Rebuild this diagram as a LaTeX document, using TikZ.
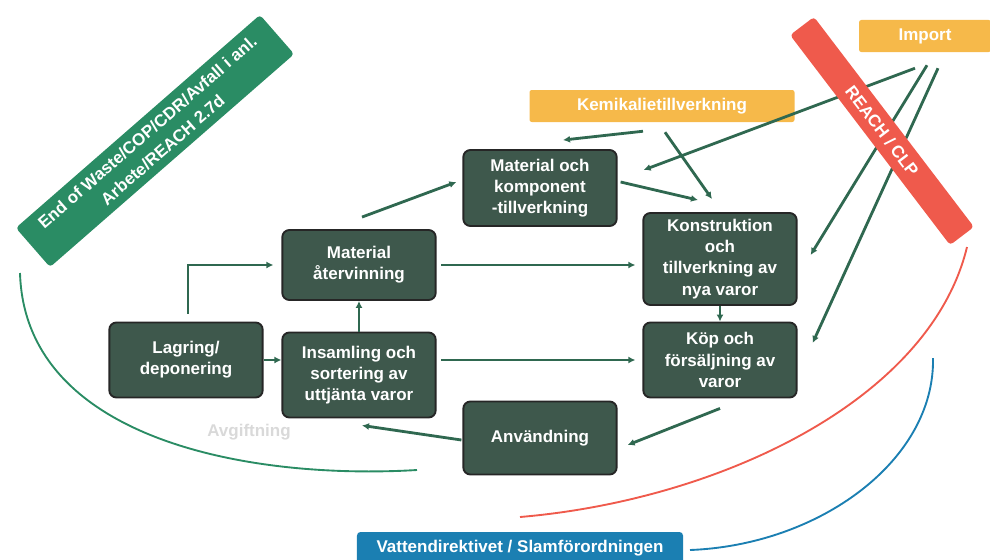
\documentclass[tikz,border=0pt]{standalone}
\usepackage{fontspec}
\setmainfont{Liberation Sans}
\usetikzlibrary{arrows.meta}
\definecolor{boxgreen}{HTML}{3E584C}
\definecolor{flowgreen}{HTML}{2F6850}
\definecolor{lawgreen}{HTML}{2A8C64}
\definecolor{lawred}{HTML}{EF5A4C}
\definecolor{lawblue}{HTML}{1B7FB2}
\definecolor{srcorange}{HTML}{F6B94A}
\begin{document}
\begin{tikzpicture}[x=0.03cm,y=-0.03cm,stage/.style={rectangle, rounded corners=6pt, draw=black!85, fill=boxgreen, line width=1.6pt, text=white, align=center, font=\fontsize{14.5}{18}\selectfont\bfseries, minimum width=4.6cm},source/.style={rectangle, rounded corners=2pt, fill=srcorange, text=white, font=\fontsize{14.5}{18}\selectfont\bfseries, minimum height=0.96cm},law/.style={rectangle, rounded corners=3pt, text=white, align=center, font=\fontsize{14.5}{20}\selectfont\bfseries},flow/.style={draw=flowgreen, line width=2.4pt, -{Latex[length=6pt,width=6pt]}},arc/.style={line width=1.6pt},]
            \useasboundingbox (0,0) rectangle (990,559);
            \node[law, fill=lawgreen, rotate=41.1, minimum width=9.72cm, minimum height=1.56cm] (eow) at (155,141) {End of Waste/COP/CDR/Avfall i anl.\\Arbete/REACH 2.7d};
            \node[source, minimum width=7.95cm] (kem) at (662,106) {Kemikalietillverkning};
            \node[source, minimum width=3.96cm] (imp) at (925,36) {Import};
            \node[stage, minimum height=2.28cm] (mok) at (540,188) {Material och\\komponent\\-tillverkning};
            \node[stage, minimum height=2.1cm] (atv) at (359,265) {Material\\återvinning};
            \node[stage, minimum height=2.76cm] (konst) at (720,259) {Konstruktion\\och\\tillverkning av\\nya varor};
            \node[stage, minimum height=2.25cm] (kop) at (720,360) {Köp och\\försäljning av\\varor};
            \node[stage, minimum height=2.25cm] (lagr) at (186,360) {Lagring/\\deponering};
            \node[stage, minimum height=2.55cm] (ins) at (359,375) {Insamling och\\sortering av\\uttjänta varor};
            \node[stage, minimum height=2.19cm] (anv) at (540,438) {Användning};
            \node[law, text=gray!30] (avg) at (249,432) {Avgiftning};
            \node[law, fill=lawblue, minimum width=9.78cm, minimum height=0.96cm] (vatten) at (520,548) {Vattendirektivet / Slamförordningen};
            \coordinate (g1) at (20,273);
            \coordinate (g2) at (417,470);
            \coordinate (r1) at (967,247);
            \coordinate (r2) at (520,517);
            \coordinate (b1) at (933,358);
            \coordinate (b2) at (690,550);
            \draw[arc, lawgreen] (g1) .. controls (25,440) and (250,480) .. (g2);
            \draw[arc, lawred] (r1) .. controls (930,400) and (720,500) .. (r2);
            \draw[arc, lawblue] (b1) .. controls (935,460) and (820,545) .. (b2);
            \draw[flow] ([shift={(3,-12)}]atv.north) -- ([shift={(-6,-6)}]mok.west);
            \draw[flow] ([shift={(-19,9)}]kem.south) -- ([shift={(23,-9)}]mok.north);
            \draw[flow] ([shift={(3,10)}]kem.south) -- ([shift={(-8,-13)}]konst.north);
            \draw[flow] ([shift={(3,-6)}]mok.east) -- ([shift={(-22,-12)}]konst.north);
            \draw[flow] ([shift={(-10,16)}]imp.south) -- ([shift={(26,-18)}]mok.east);
            \draw[flow] ([shift={(2,13)}]imp.south) -- ([shift={(13,-4)}]konst.east);
            \draw[flow] ([shift={(13,16)}]imp.south) -- ([shift={(15,-17)}]kop.east);
            \draw[flow, shorten <=4pt, shorten >=6pt] (atv.east) -- (atv.east -| konst.west);
            \draw[flow] (konst.south) -- (kop.north);
            \draw[flow, shorten <=4pt, shorten >=6pt] ([yshift=15*0.03cm]ins.east) -- ([yshift=15*0.03cm]ins.east -| kop.west);
            \draw[flow] (ins.north) -- (atv.south);
            \draw[flow] (lagr.east) -- (lagr.east -| ins.west);
            \draw[flow, shorten <=2.4mm, shorten >=2.4mm] ([xshift=2*0.03cm]lagr.north) |- (atv.west);
            \draw[flow] ([shift={(0,10)}]kop.south) -- ([shift={(10,7)}]anv.east);
            \draw[flow] ([shift={(-1,2)}]anv.west) -- ([shift={(3,7)}]ins.south);
            \node[law, fill=lawred, rotate=-52.7, minimum width=7.92cm, minimum height=0.9cm] (reach) at (882,131) {REACH / CLP};
        \end{tikzpicture}
\end{document}
